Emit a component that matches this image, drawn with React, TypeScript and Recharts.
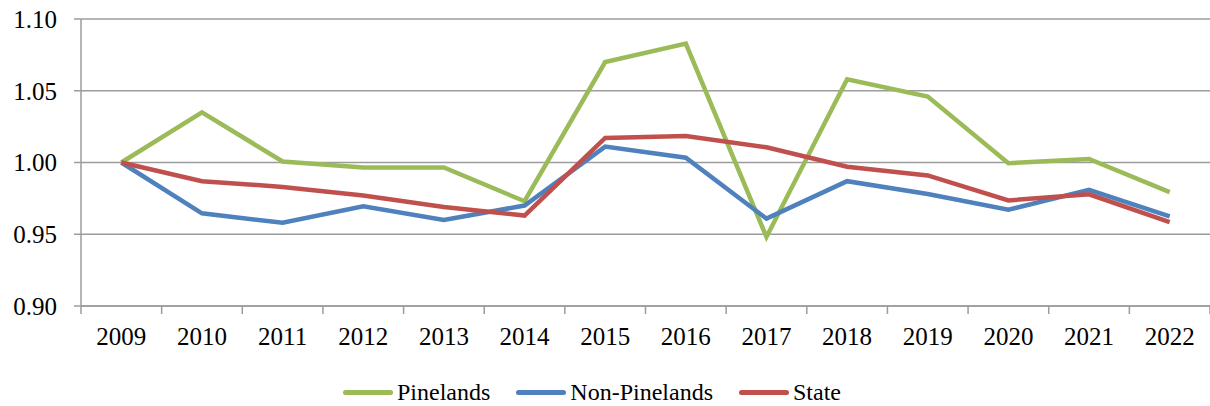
import React from 'react';
import { LineChart, Line, XAxis, YAxis, CartesianGrid } from 'recharts';

// Werte (Index, 2009 = 1.00)
const years = ['2009', '2010', '2011', '2012', '2013', '2014', '2015', '2016', '2017', '2018', '2019', '2020', '2021', '2022'];
const pinelands = [1.0, 1.035, 1.0007, 0.9965, 0.9965, 0.973, 1.07, 1.0829, 0.9481, 1.058, 1.046, 0.9995, 1.0025, 0.9794];
const nonPinelands = [1.0, 0.9646, 0.958, 0.9695, 0.96, 0.97, 1.0111, 1.0033, 0.9609, 0.987, 0.978, 0.9671, 0.981, 0.9625];
const state = [1.0, 0.987, 0.983, 0.977, 0.969, 0.963, 1.0171, 1.0185, 1.0106, 0.997, 0.991, 0.9736, 0.9778, 0.9585];
const yTicks = [0.9, 0.95, 1.0, 1.05, 1.1];

const series = [
  { key: 'pinelands', name: 'Pinelands', color: '#9BBB59' },
  { key: 'nonPinelands', name: 'Non-Pinelands', color: '#4F81BD' },
  { key: 'state', name: 'State', color: '#C0504D' },
];

const data = years.map((year, i) => ({
  year,
  pinelands: pinelands[i],
  nonPinelands: nonPinelands[i],
  state: state[i],
}));

const W = 1210;
const H = 406;
const M = { top: 19, right: 0, left: 0, bottom: 50 };
const Y_AXIS_W = 81;
const BAND = (W - M.left - M.right - Y_AXIS_W) / years.length;
const FONT = '"Liberation Serif", "Times New Roman", serif';
const GRID = '#9c9c9c';

// Tick: Beschriftung in der Mitte, Strich an der Kategoriegrenze
const YearTick = (props: any) => {
  const { x, y, payload, index } = props;
  const top = y - 7;
  return (
    <g>
      <line x1={x - BAND / 2} x2={x - BAND / 2} y1={top} y2={top + 8} stroke={GRID} strokeWidth={1.5} />
      {index === years.length - 1 && (
        <line x1={x + BAND / 2} x2={x + BAND / 2} y1={top} y2={top + 8} stroke={GRID} strokeWidth={1.5} />
      )}
      <text x={x} y={y + 32} textAnchor="middle" fontSize={25} fontFamily={FONT} fill="#000">
        {payload.value}
      </text>
    </g>
  );
};

export default function App() {
  return (
    <div style={{ position: 'absolute', left: 0, top: 0, width: W, height: H, background: '#fff' }}>
      <LineChart width={W} height={H} data={data} margin={M}>
        <CartesianGrid horizontal vertical={false} stroke={GRID} strokeWidth={1.5} />
        <XAxis
          dataKey="year"
          interval={0}
          padding={{ left: BAND / 2, right: BAND / 2 }}
          height={50}
          tickLine={false}
          tickSize={7}
          tickMargin={0}
          tick={<YearTick />}
          axisLine={{ stroke: GRID, strokeWidth: 1.5 }}
        />
        <YAxis
          width={Y_AXIS_W}
          domain={[0.9, 1.1]}
          ticks={yTicks}
          interval={0}
          tickFormatter={(v: number) => v.toFixed(2)}
          tickSize={7}
          tickMargin={17}
          tickLine={{ stroke: GRID, strokeWidth: 1.5 }}
          axisLine={{ stroke: GRID, strokeWidth: 1.5 }}
          tick={{ fontSize: 25, fontFamily: FONT, fill: '#000' }}
        />
        {series.map(s => (
          <Line
            key={s.key}
            type="linear"
            dataKey={s.key}
            name={s.name}
            stroke={s.color}
            strokeWidth={4.5}
            dot={false}
            activeDot={false}
            isAnimationActive={false}
          />
        ))}
      </LineChart>

      {/* Legende */}
      <div
        style={{
          position: 'absolute',
          left: 343,
          top: 377,
          display: 'flex',
          alignItems: 'center',
          gap: 26,
          fontFamily: FONT,
          fontSize: 24,
          color: '#000',
          lineHeight: '30px',
          whiteSpace: 'nowrap',
        }}
      >
        {series.map(s => (
          <div key={s.key} style={{ display: 'flex', alignItems: 'center', gap: 4 }}>
            <span
              style={{
                display: 'inline-block',
                width: 50,
                height: 5,
                borderRadius: 3,
                background: s.color,
              }}
            />
            <span>{s.name}</span>
          </div>
        ))}
      </div>
    </div>
  );
}
